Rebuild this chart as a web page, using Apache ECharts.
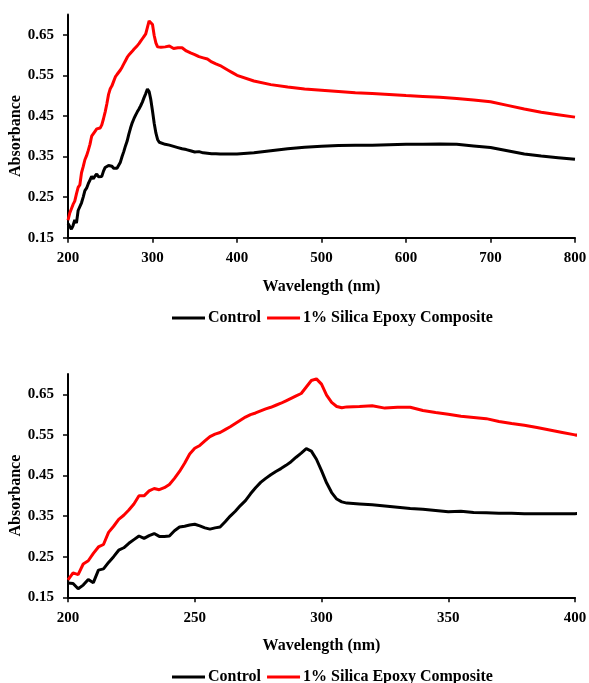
<!DOCTYPE html>
<html>
<head>
<meta charset="utf-8">
<script src="https://cdn.jsdelivr.net/npm/echarts@6/dist/echarts.min.js"></script>
<style>
html,body{margin:0;padding:0;background:#fff;}
#chart{width:589px;height:683px;}
</style>
</head>
<body>
<div id="chart"></div>
<script>
const wavelength = [200,202,204,206,208,210,212,214,216,218,220,222,224,226,228,230,232,234,236,238,240,242,244,246,248,250,252,254,256,258,260,262,264,266,268,270,272,274,276,278,280,282,284,286,288,290,292,294,296,298,300,302,304,306,308,310,315,320,325,330,335,340,345,350,355,360,365,370,375,380,385,390,395,400,420,440,460,480,500,520,540,560,580,600,620,640,660,680,700,720,740,760,780,800];

const control = [0.185,0.184,0.171,0.180,0.194,0.186,0.217,0.220,0.236,0.250,0.266,0.272,0.283,0.292,0.301,0.295,0.302,0.307,0.300,0.300,0.301,0.314,0.323,0.325,0.328,0.330,0.326,0.321,0.318,0.321,0.323,0.336,0.350,0.362,0.376,0.388,0.405,0.420,0.433,0.443,0.452,0.460,0.467,0.475,0.484,0.495,0.505,0.516,0.510,0.490,0.462,0.432,0.408,0.392,0.385,0.382,0.380,0.378,0.375,0.372,0.369,0.367,0.364,0.361,0.362,0.359,0.358,0.357,0.357,0.356,0.356,0.356,0.356,0.356,0.359,0.364,0.369,0.373,0.375,0.377,0.378,0.378,0.379,0.380,0.380,0.381,0.380,0.376,0.372,0.364,0.356,0.351,0.347,0.343];

const silica = [0.193,0.210,0.206,0.232,0.240,0.258,0.274,0.280,0.310,0.325,0.342,0.352,0.365,0.380,0.400,0.400,0.412,0.418,0.415,0.420,0.428,0.443,0.460,0.480,0.503,0.517,0.524,0.535,0.546,0.552,0.556,0.563,0.570,0.578,0.586,0.594,0.600,0.604,0.609,0.614,0.618,0.623,0.628,0.634,0.640,0.646,0.652,0.668,0.684,0.688,0.675,0.648,0.630,0.620,0.617,0.619,0.620,0.622,0.616,0.618,0.618,0.610,0.605,0.601,0.596,0.593,0.590,0.583,0.578,0.574,0.568,0.562,0.556,0.550,0.536,0.527,0.521,0.516,0.513,0.510,0.507,0.505,0.503,0.500,0.498,0.496,0.493,0.489,0.485,0.476,0.467,0.459,0.453,0.447];

const seriesNames = ['Control', '1% Silica Epoxy Composite'];
const yTicks = [0.15, 0.25, 0.35, 0.45, 0.55, 0.65];
const xTicksTop = [200, 300, 400, 500, 600, 700, 800];
const xTicksBottom = [200, 250, 300, 350, 400];
const xLabel = 'Wavelength (nm)';
const yLabel = 'Absorbance';

const FONT = 'Liberation Serif';
const pairs = vals => wavelength.map((w, i) => [w, vals[i]]);

function xAxis(gridIndex, ticks) {
  return {
    type: 'value', gridIndex: gridIndex,
    min: ticks[0], max: ticks[ticks.length - 1], interval: ticks[1] - ticks[0],
    name: xLabel, nameLocation: 'middle', nameGap: 41, nameMoveOverlap: false,
    nameTextStyle: {fontFamily: FONT, fontWeight: 'bold', fontSize: 16, color: '#000'},
    axisLine: {show: true, lineStyle: {color: '#000', width: 2}},
    axisTick: {show: true, length: 5, lineStyle: {color: '#000', width: 1.5}},
    axisLabel: {margin: 13, fontFamily: FONT, fontWeight: 'bold', fontSize: 15, color: '#000'},
    splitLine: {show: false}
  };
}
function yAxis(gridIndex) {
  return {
    type: 'value', gridIndex: gridIndex, min: 0.15, max: 0.7,
    name: yLabel, nameLocation: 'middle', nameGap: 44, nameRotate: 90, nameMoveOverlap: false,
    nameTextStyle: {fontFamily: FONT, fontWeight: 'bold', fontSize: 16, color: '#000', padding: [0, 20, 0, 0]},
    axisLine: {show: true, lineStyle: {color: '#000', width: 2}},
    axisTick: {show: true, length: 5, customValues: yTicks, lineStyle: {color: '#000', width: 1.5}},
    axisLabel: {margin: 14, customValues: yTicks, formatter: v => Number(v).toFixed(2),
      fontFamily: FONT, fontWeight: 'bold', fontSize: 15, color: '#000'},
    splitLine: {show: false}
  };
}
function legend(top) {
  return {
    top: top, left: 167, itemGap: 6, itemWidth: 33, itemHeight: 3, icon: 'rect',
    textStyle: {fontFamily: FONT, fontWeight: 'bold', fontSize: 16, color: '#000', padding: [0, 0, 0, -2]},
    data: seriesNames
  };
}
function line(name, vals, idx, color) {
  return {
    name: name, type: 'line', xAxisIndex: idx, yAxisIndex: idx,
    data: pairs(vals), showSymbol: false, symbol: 'none', smooth: false,
    lineStyle: {color: color, width: 3}, itemStyle: {color: color}, clip: true
  };
}

const chart = echarts.init(document.getElementById('chart'), null, {renderer: 'canvas'});
chart.setOption({
  animation: false,
  backgroundColor: '#fff',
  grid: [
    {left: 68, right: 14, top: 14.4, height: 223.3, containLabel: false, outerBoundsMode: 'none'},
    {left: 68, right: 14, top: 374, height: 223.3, containLabel: false, outerBoundsMode: 'none'}
  ],
  xAxis: [xAxis(0, xTicksTop), xAxis(1, xTicksBottom)],
  yAxis: [yAxis(0), yAxis(1)],
  legend: [legend(305), legend(664)],
  series: [
    line(seriesNames[0], control, 0, '#000000'),
    line(seriesNames[1], silica, 0, '#ff0000'),
    line(seriesNames[0], control, 1, '#000000'),
    line(seriesNames[1], silica, 1, '#ff0000')
  ]
});
</script>
</body>
</html>
